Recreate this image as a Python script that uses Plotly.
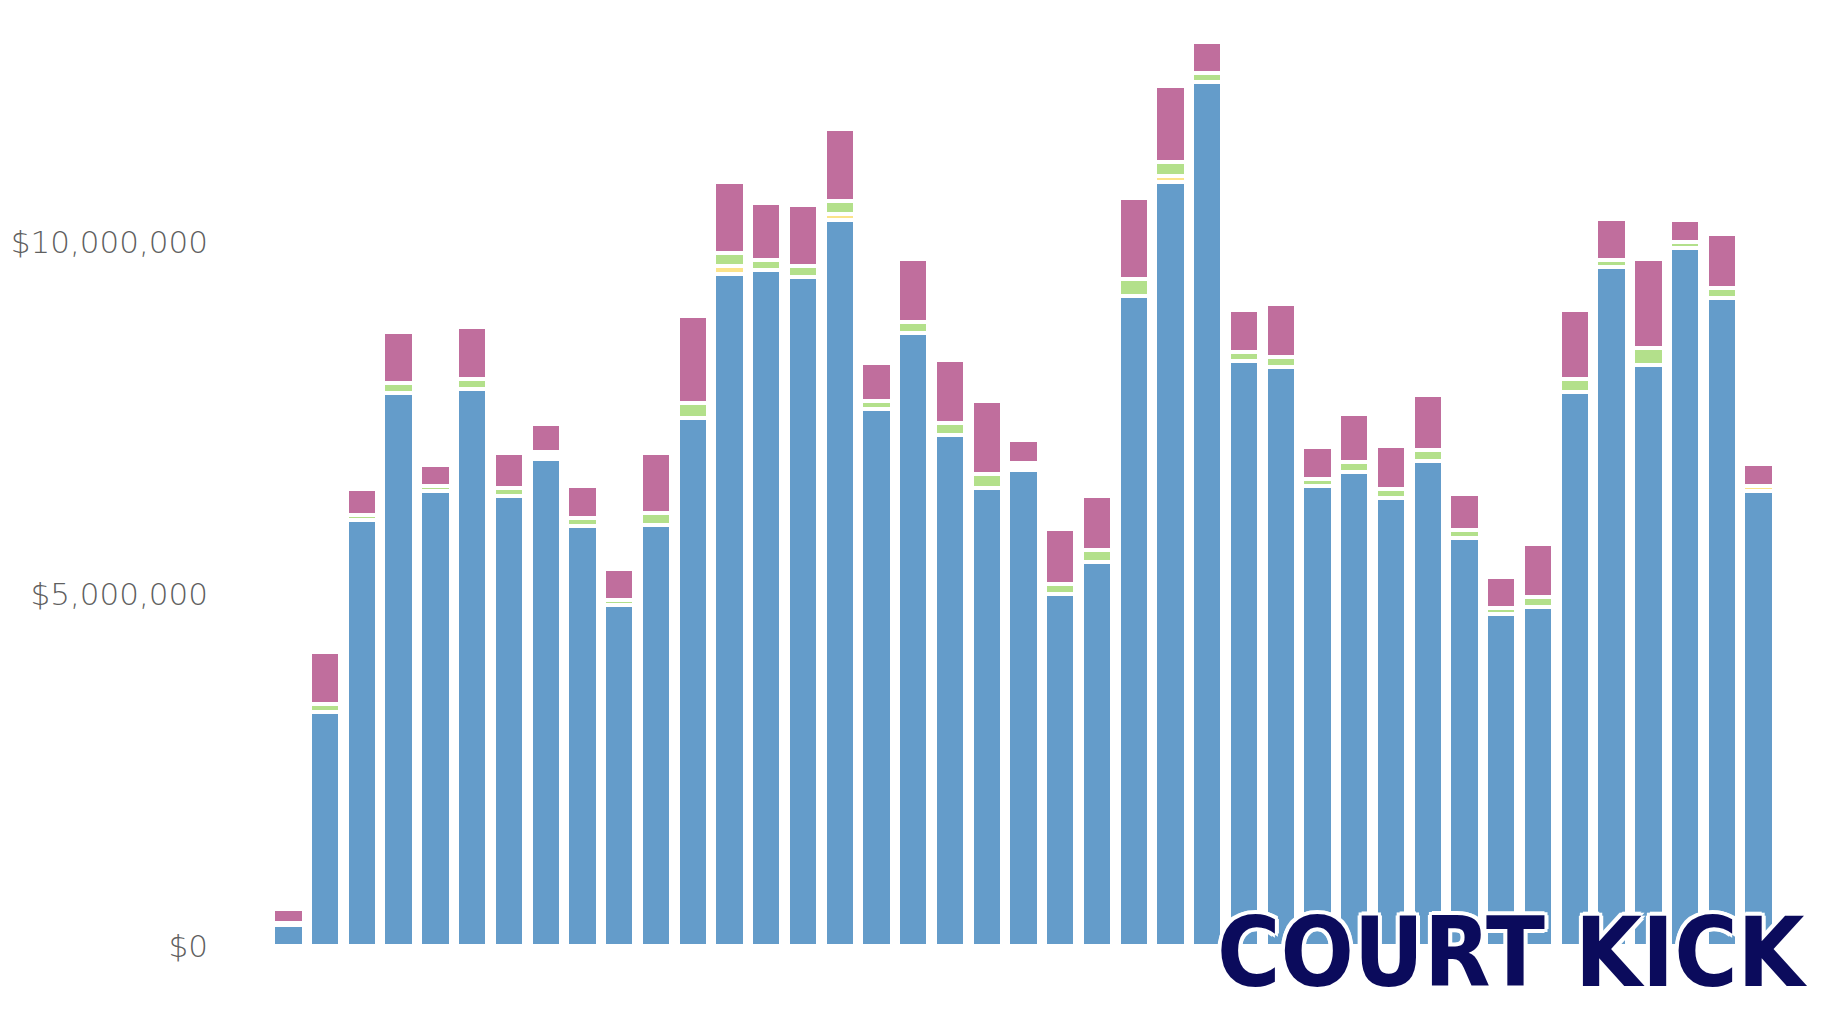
import plotly.graph_objects as go

categories = [f"P{i+1}" for i in range(41)]

blue_vals = [0.30, 3.32, 6.05, 7.86, 6.46, 7.92, 6.39, 6.92, 5.97, 4.84,
             5.98, 7.50, 9.55, 9.60, 9.50, 10.32, 7.63, 8.71, 7.26, 6.51,
             6.76, 5.00, 5.46, 9.23, 10.85, 12.28, 8.31, 8.23, 6.53, 6.74,
             6.36, 6.89, 5.80, 4.71, 4.82, 7.87, 9.64, 8.26, 9.91, 9.21, 6.46]
yellow_vals = [0, 0, 0, 0, 0, 0, 0, 0.04, 0, 0,
               0, 0, 0.11, 0, 0, 0.08, 0, 0, 0, 0,
               0.06, 0, 0, 0, 0.09, 0, 0, 0, 0, 0,
               0, 0, 0, 0, 0, 0, 0, 0, 0, 0, 0.07]
green_vals = [0.03, 0.12, 0.08, 0.14, 0.07, 0.14, 0.11, 0.06, 0.11, 0.08,
              0.17, 0.22, 0.18, 0.15, 0.16, 0.19, 0.11, 0.16, 0.17, 0.19,
              0.04, 0.15, 0.16, 0.25, 0.20, 0.12, 0.13, 0.14, 0.10, 0.13,
              0.13, 0.15, 0.11, 0.09, 0.14, 0.18, 0.11, 0.23, 0.09, 0.14, 0]
pink_vals = [0.19, 0.73, 0.36, 0.73, 0.30, 0.73, 0.51, 0.40, 0.46, 0.44,
             0.85, 1.23, 1.01, 0.81, 0.87, 1.02, 0.54, 0.89, 0.90, 1.04,
             0.33, 0.77, 0.78, 1.15, 1.08, 0.44, 0.60, 0.75, 0.46, 0.69,
             0.61, 0.79, 0.51, 0.44, 0.75, 0.99, 0.58, 1.27, 0.32, 0.76, 0.32]

tick_vals = [0, 5_000_000, 10_000_000]
tick_text = ["$0", "$5,000,000", "$10,000,000"]

series = [
    ("Blue", blue_vals, "#649cca"),
    ("Yellow", yellow_vals, "#fbe38a"),
    ("Green", green_vals, "#b3e08b"),
    ("Pink", pink_vals, "#c06e9d"),
]

fig = go.Figure()
for name, vals, color in series:
    fig.add_trace(go.Bar(
        x=categories,
        y=[v * 1_000_000 for v in vals],
        name=name,
        marker=dict(color=color, line=dict(color="white", width=4)),
        hoverinfo="skip",
    ))

fig.update_layout(
    barmode="stack",
    bargap=0.175,
    width=1824,
    height=1026,
    margin=dict(l=270, r=47, t=0, b=80),
    paper_bgcolor="white",
    plot_bgcolor="white",
    showlegend=False,
    xaxis=dict(showticklabels=False, showgrid=False, zeroline=False,
               showline=False, ticks="", range=[-0.5, 40.5]),
    yaxis=dict(range=[0, 13_440_000], tickvals=tick_vals, ticktext=tick_text,
               showgrid=False, zeroline=False, showline=False, ticks="",
               ticklabelstandoff=61,
               tickfont=dict(family="DejaVu Sans ExtraLight, DejaVu Sans, sans-serif",
                             size=31, color="#5f5f5f", weight=200)),
)

fig.add_annotation(
    xref="paper", yref="paper", x=1.022, y=-0.007,
    xanchor="right", yanchor="middle",
    text="<b>COURT KICK</b>",
    showarrow=False,
    font=dict(family="DejaVu Sans Condensed, sans-serif",
              size=96, color="#0b0b5c",
              shadow="3px 3px 0 #fff, -3px -3px 0 #fff, 3px -3px 0 #fff, -3px 3px 0 #fff, 0 4px 0 #fff, 0 -4px 0 #fff, 4px 0 0 #fff, -4px 0 0 #fff"),
)

fig.write_html("out.html", config={"displayModeBar": False},
               post_script="document.body.style.margin='0px';document.body.style.overflow='hidden';")
